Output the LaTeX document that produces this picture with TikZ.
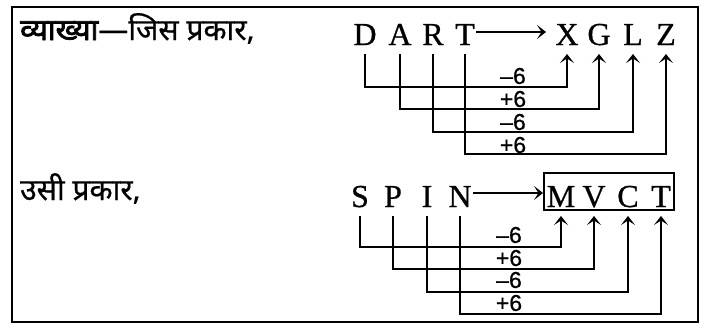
\documentclass[tikz,border=0pt]{standalone}
\usepackage{fontspec}
\setmainfont{Liberation Serif}
\newfontfamily\letfont[FakeBold=0.7]{Liberation Serif}
\newfontfamily\deva[Script=Devanagari,FakeBold=0.6]{Noto Sans}
\newfontfamily\devab[Script=Devanagari,FakeBold=2.5]{Noto Sans}
\newfontfamily\labfont[FakeBold=0.6]{Liberation Sans}
\usetikzlibrary{arrows.meta}
\begin{document}
\begin{tikzpicture}[x=1pt,y=-1pt,
  letter/.style={font=\letfont\fontsize{32}{32}\selectfont, inner sep=0pt, outer ysep=9pt, text depth=0pt, anchor=base},
  devtext/.style={font=\deva\fontsize{30}{30}\selectfont, inner sep=0pt, anchor=base west},
  numlab/.style={font=\labfont\fontsize{23}{23}\selectfont, inner sep=0pt},
  chev/.style={-{Stealth[length=9pt,width=14pt,inset=4.5pt]}},
  conn/.style={line width=1.8pt, chev},
  mainarrow/.style={line width=1.9pt, chev},
  frame/.style={line width=2.5pt}]
\useasboundingbox (0,0) rectangle (708,327);
\draw[frame] (12,7) rectangle (698,322);

% top row
\node[devtext] (t1) at (20,40) {{\devab व्याख्या}—जिस प्रकार,};
\node[letter] (D) at (365,45) {D};
\node[letter] (A) at (400,45) {A};
\node[letter] (R) at (433,45) {R};
\node[letter] (T) at (465,45) {T};
\node[letter] (X) at (567,45) {X};
\node[letter] (G) at (599,45) {G};
\node[letter] (L) at (633,45) {L};
\node[letter] (Z) at (666,45) {Z};
\coordinate (h1) at (0,32);
\draw[mainarrow] (T.east |- h1) ++(1,0) -- (546,32) coordinate (h1e);
\coordinate (a1) at (0,87);
\coordinate (a2) at (0,109);
\coordinate (a3) at (0,132);
\coordinate (a4) at (0,154);
\draw[conn] (D.south) -- (D.south |- a1) -- (X.south |- a1) -- (X.south);
\draw[conn] (A.south) -- (A.south |- a2) -- (G.south |- a2) -- (G.south);
\draw[conn] (R.south) -- (R.south |- a3) -- (L.south |- a3) -- (L.south);
\draw[conn] (T.south) -- (T.south |- a4) -- (Z.south |- a4) -- (Z.south);
\node[numlab] (n1) at (513,76) {–6};
\node[numlab] (n2) at (513,99) {+6};
\node[numlab] (n3) at (513,122) {–6};
\node[numlab] (n4) at (513,145) {+6};

% bottom row
\node[devtext] (t2) at (20,200) {उसी प्रकार,};
\node[letter] (S) at (360,207) {S};
\node[letter] (P) at (393,207) {P};
\node[letter] (I) at (427,207) {I};
\node[letter] (N) at (460,207) {N};
\node[letter] (M) at (561,207) {M};
\node[letter] (V) at (594,207) {V};
\node[letter] (C) at (628,207) {C};
\node[letter] (T2) at (661,207) {T};
\node[draw, line width=2pt, minimum width=130pt, minimum height=37pt, inner sep=0pt] (box) at (609,191.5) {};
\coordinate (h2) at (0,193);
\draw[mainarrow] (N.east |- h2) ++(1,0) -- (h2 -| box.west);
\coordinate (b1) at (0,247);
\coordinate (b2) at (0,269);
\coordinate (b3) at (0,292);
\coordinate (b4) at (0,314);
\draw[conn] (S.south) -- (S.south |- b1) -- (M.south |- b1) -- (M.south);
\draw[conn] (P.south) -- (P.south |- b2) -- (V.south |- b2) -- (V.south);
\draw[conn] (I.south) -- (I.south |- b3) -- (C.south |- b3) -- (C.south);
\draw[conn] (N.south) -- (N.south |- b4) -- (T2.south |- b4) -- (T2.south);
\node[numlab] (m1) at (509,235) {–6};
\node[numlab] (m2) at (509,258) {+6};
\node[numlab] (m3) at (509,280) {–6};
\node[numlab] (m4) at (509,303) {+6};
\end{tikzpicture}
\end{document}
